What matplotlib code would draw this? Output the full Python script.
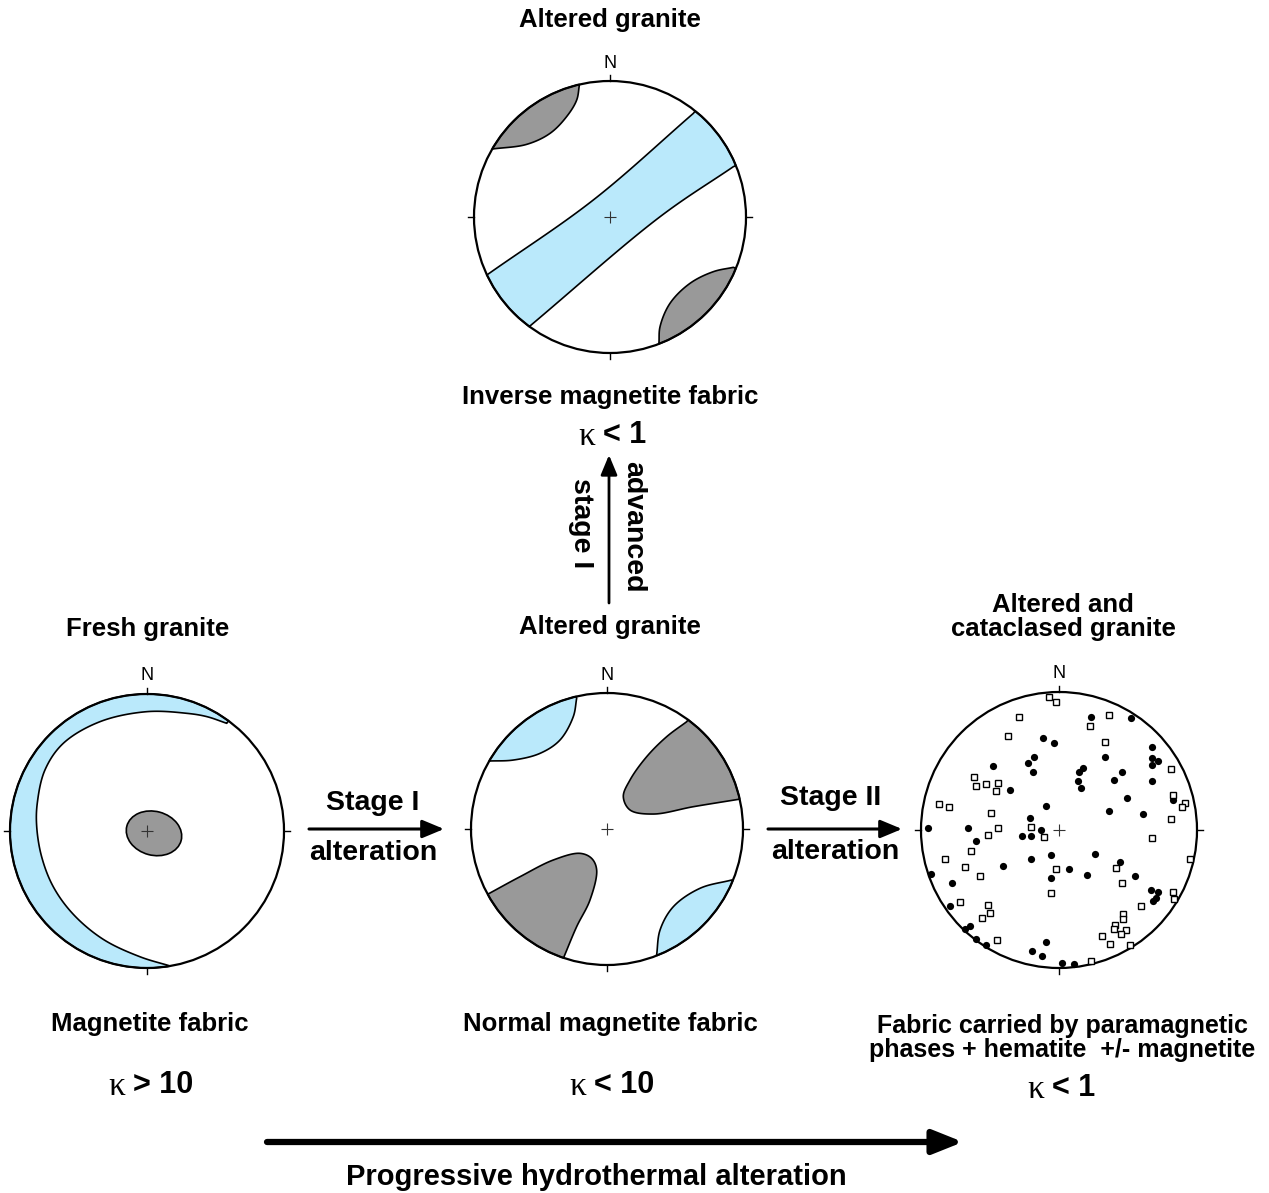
import numpy as np
import matplotlib.pyplot as plt
from matplotlib.patches import Polygon, Circle, Ellipse

BLUE = '#bae9fb'
GREY = '#999999'
SANS = 'Liberation Sans'
SERIF = 'Liberation Serif'

# stereonet centres (px) and radius
NETS = {
    'top': (610, 217, 136),
    'left': (147, 831, 137),
    'mid': (607, 829, 136),
    'right': (1059, 830, 138),
}

# contour outlines in unit-circle coords (x east, y north); each region is a
# list of interior curves joined clockwise along the primitive circle
top_blue = [
    [(-0.895, -0.419), (-0.123, 0.125), (0.613, 0.762)],
    [(0.907, 0.370), (0.368, 0.002), (-0.588, -0.801)],
]
top_grey_nw = [[(-0.225, 0.971), (-0.245, 0.860), (-0.319, 0.738), (-0.441, 0.615),
                (-0.613, 0.534), (-0.865, 0.500)]]
top_grey_se = [[(0.360, -0.924), (0.368, -0.806), (0.441, -0.635), (0.588, -0.488),
                (0.760, -0.402), (0.907, -0.370)]]

left_blue = [[(0.582, 0.786), (0.436, 0.835), (0.290, 0.859), (-0.002, 0.871),
              (-0.343, 0.798), (-0.611, 0.640), (-0.745, 0.445), (-0.801, 0.202),
              (-0.805, 0.031), (-0.769, -0.188), (-0.684, -0.407), (-0.538, -0.608),
              (-0.319, -0.791), (-0.051, -0.918), (0.168, -0.985)]]
left_grey = {'centre': (0.051, -0.017), 'width': 0.41, 'height': 0.32, 'angle': -15}

mid_blue_nw = [[(-0.223, 0.961), (-0.248, 0.826), (-0.346, 0.654), (-0.493, 0.556),
                (-0.689, 0.507), (-0.865, 0.500)]]
mid_blue_se = [[(0.365, -0.926), (0.390, -0.743), (0.488, -0.571), (0.684, -0.436),
                (0.917, -0.375)]]
mid_grey_ne = [[(0.966, 0.218), (0.635, 0.164), (0.340, 0.110), (0.169, 0.140),
                (0.120, 0.238), (0.169, 0.360), (0.292, 0.532), (0.439, 0.679),
                (0.586, 0.789)]]
mid_grey_sw = [[(-0.865, -0.473), (-0.640, -0.351), (-0.395, -0.228), (-0.199, -0.179),
                (-0.113, -0.216), (-0.076, -0.301), (-0.125, -0.522), (-0.223, -0.718),
                (-0.314, -0.934)]]

# individual axes, cataclased granite (unit-circle coords)
dots_x = [-0.116, -0.036, -0.181, -0.225, -0.188, -0.478, -0.355, -0.094, -0.210, -0.949,
          -0.659, -0.130, 0.232, 0.522, 0.333, 0.674, 0.674, 0.717, 0.674, 0.174,
          0.145, 0.457, 0.138, 0.159, 0.399, 0.674, 0.493, 0.826, 0.362, 0.609,
          -0.268, -0.203, -0.601, -0.203, -0.058, -0.406, -0.058, -0.928, -0.775, -0.790,
          -0.645, -0.681, -0.601, -0.529, -0.094, -0.196, -0.123, 0.022, 0.261, 0.072,
          0.203, 0.442, 0.551, 0.667, 0.717, 0.703, 0.681, 0.109]
dots_y = [0.667, 0.630, 0.529, 0.486, 0.420, 0.464, 0.290, 0.174, 0.087, 0.014,
          0.014, 0.000, 0.819, 0.812, 0.529, 0.601, 0.522, 0.500, 0.471, 0.449,
          0.420, 0.420, 0.355, 0.304, 0.362, 0.355, 0.232, 0.217, 0.138, 0.116,
          -0.043, -0.043, -0.080, -0.210, -0.181, -0.261, -0.348, -0.319, -0.384, -0.551,
          -0.696, -0.717, -0.790, -0.833, -0.812, -0.877, -0.913, -0.964, -0.174, -0.283,
          -0.326, -0.232, -0.333, -0.435, -0.449, -0.493, -0.514, -0.971]
squares_x = [-0.072, -0.022, -0.290, -0.370, -0.616, -0.601, -0.529, -0.442, -0.457, -0.870,
             -0.797, -0.493, -0.442, -0.203, 0.362, 0.225, 0.333, 0.812, 0.826, 0.913,
             0.891, 0.812, -0.514, -0.109, -0.638, -0.826, -0.681, -0.572, -0.022, -0.058,
             -0.717, -0.514, -0.500, -0.558, -0.449, 0.674, 0.949, 0.413, 0.457, 0.826,
             0.833, 0.594, 0.464, 0.464, 0.406, 0.399, 0.486, 0.449, 0.312, 0.370,
             0.514, 0.232]
squares_y = [0.964, 0.928, 0.819, 0.681, 0.384, 0.319, 0.333, 0.341, 0.283, 0.188,
             0.167, 0.123, 0.014, 0.022, 0.833, 0.754, 0.638, 0.442, 0.254, 0.196,
             0.167, 0.080, -0.036, -0.051, -0.152, -0.210, -0.268, -0.333, -0.283, -0.457,
             -0.522, -0.543, -0.601, -0.638, -0.797, -0.058, -0.210, -0.275, -0.384, -0.449,
             -0.500, -0.551, -0.609, -0.645, -0.688, -0.717, -0.725, -0.754, -0.768, -0.826,
             -0.833, -0.949]


def catmull_rom(pts, n=30, alpha=0.5):
    # centripetal Catmull-Rom through the given points
    p = np.asarray(pts, float)
    p = np.vstack([2 * p[0] - p[1], p, 2 * p[-1] - p[-2]])
    out = []
    for i in range(1, len(p) - 2):
        p0, p1, p2, p3 = p[i - 1], p[i], p[i + 1], p[i + 2]
        t0 = 0.0
        t1 = t0 + np.linalg.norm(p1 - p0) ** alpha
        t2 = t1 + np.linalg.norm(p2 - p1) ** alpha
        t3 = t2 + np.linalg.norm(p3 - p2) ** alpha
        t = np.linspace(t1, t2, n, endpoint=False)[:, None]
        a1 = (t1 - t) / (t1 - t0) * p0 + (t - t0) / (t1 - t0) * p1
        a2 = (t2 - t) / (t2 - t1) * p1 + (t - t1) / (t2 - t1) * p2
        a3 = (t3 - t) / (t3 - t2) * p2 + (t - t2) / (t3 - t2) * p3
        b1 = (t2 - t) / (t2 - t0) * a1 + (t - t0) / (t2 - t0) * a2
        b2 = (t3 - t) / (t3 - t1) * a2 + (t - t1) / (t3 - t1) * a3
        out.append((t2 - t) / (t2 - t1) * b1 + (t - t1) / (t2 - t1) * b2)
    out.append(p[-2][None, :])
    return np.vstack(out)


def arc_cw(a, b):
    a0 = np.degrees(np.arctan2(a[1], a[0]))
    a1 = np.degrees(np.arctan2(b[1], b[0]))
    while a1 > a0:
        a1 -= 360
    th = np.radians(np.linspace(a0, a1, 80))
    return np.column_stack([np.cos(th), np.sin(th)])


def outline(curves):
    pts = []
    for i, c in enumerate(curves):
        nxt = curves[(i + 1) % len(curves)]
        pts.append(catmull_rom(c))
        pts.append(arc_cw(c[-1], nxt[0]))
    return np.vstack(pts)


def to_px(net, uv):
    cx, cy, r = NETS[net]
    uv = np.asarray(uv, float)
    return np.column_stack([cx + uv[:, 0] * r, cy - uv[:, 1] * r])


def draw_region(ax, net, curves, colour):
    ax.add_patch(Polygon(to_px(net, outline(curves)), closed=True, facecolor=colour,
                         edgecolor='black', lw=1.2, joinstyle='round', zorder=2))


def draw_net(ax, net):
    cx, cy, r = NETS[net]
    ax.add_patch(Circle((cx, cy), r, fill=False, lw=1.6, edgecolor='black', zorder=4))
    for dx, dy in [(0, -1), (1, 0), (0, 1), (-1, 0)]:
        ax.plot([cx + dx * r, cx + dx * (r + 6)], [cy + dy * r, cy + dy * (r + 6)],
                color='black', lw=1.0, zorder=4)
    ax.plot(cx, cy, '+', ms=9, mew=0.8, color='#333333', zorder=5)
    ax.text(cx, cy - r - 18, 'N', fontsize=13, family=SANS, ha='center', va='center')


def label(ax, x, y, s, size=18.5, **kw):
    ax.text(x, y, s, fontsize=size, family=SANS, fontweight='bold', ha='center',
            va='center', **kw)


def kappa(ax, x, y, rest):
    ax.text(x - 4, y + 2, '\u03ba', fontsize=24, family=SERIF, ha='right', va='center')
    ax.text(x + 4, y, rest, fontsize=22, family=SANS, fontweight='bold', ha='left',
            va='center')


def arrow(ax, start, end, lw, scale, style='-|>,head_length=0.6,head_width=0.25'):
    ax.annotate('', xy=end, xytext=start,
                arrowprops=dict(arrowstyle=style, lw=lw, color='black',
                                mutation_scale=scale, shrinkA=0, shrinkB=0))


fig = plt.figure(figsize=(12.69, 11.93), dpi=100)
ax = fig.add_axes([0, 0, 1, 1])
ax.set_xlim(0, 1269)
ax.set_ylim(1193, 0)
ax.axis('off')

# top: inverse fabric
draw_region(ax, 'top', top_blue, BLUE)
draw_region(ax, 'top', top_grey_nw, GREY)
draw_region(ax, 'top', top_grey_se, GREY)
draw_net(ax, 'top')

# left: fresh granite
draw_region(ax, 'left', left_blue, BLUE)
cx, cy, r = NETS['left']
ex, ey = left_grey['centre']
ax.add_patch(Ellipse((cx + ex * r, cy - ey * r), left_grey['width'] * r,
                     left_grey['height'] * r, angle=-left_grey['angle'],
                     facecolor=GREY, edgecolor='black', lw=1.2, zorder=3))
draw_net(ax, 'left')

# middle: normal fabric
draw_region(ax, 'mid', mid_blue_nw, BLUE)
draw_region(ax, 'mid', mid_blue_se, BLUE)
draw_region(ax, 'mid', mid_grey_ne, GREY)
draw_region(ax, 'mid', mid_grey_sw, GREY)
draw_net(ax, 'mid')

# right: scattered axes
d = to_px('right', np.column_stack([dots_x, dots_y]))
s = to_px('right', np.column_stack([squares_x, squares_y]))
ax.plot(d[:, 0], d[:, 1], 'o', ms=5.2, color='black', mew=0, zorder=6)
ax.plot(s[:, 0], s[:, 1], 's', ms=5.0, mfc='white', mec='black', mew=1.0, zorder=6)
draw_net(ax, 'right')

# titles and captions
label(ax, 610, 20, 'Altered granite')
label(ax, 610, 397, 'Inverse magnetite fabric')
kappa(ax, 599, 435, '< 1')

label(ax, 148, 629, 'Fresh granite')
label(ax, 610, 627, 'Altered granite')
label(ax, 1063, 617, 'Altered and\ncataclased granite', linespacing=0.95)

label(ax, 150, 1024, 'Magnetite fabric')
label(ax, 610, 1024, 'Normal magnetite fabric')
label(ax, 1062, 1038, 'Fabric carried by paramagnetic\nphases + hematite  +/- magnetite',
      size=18, linespacing=0.98)
kappa(ax, 129, 1085, '> 10')
kappa(ax, 590, 1085, '< 10')
kappa(ax, 1048, 1088, '< 1')

# stage arrows
arrow(ax, (309, 829), (444, 829), 2.2, 22)
label(ax, 373, 803, 'Stage I', size=20.5)
label(ax, 373, 853, 'alteration', size=20.5)
arrow(ax, (768, 829), (902, 829), 2.2, 22)
label(ax, 831, 798, 'Stage II', size=20.5)
label(ax, 835, 852, 'alteration', size=20.5)

arrow(ax, (609, 603), (609, 455), 2.0, 20)
label(ax, 633, 527, 'advanced', size=20.5, rotation=270)
label(ax, 581, 523, 'stage I', size=20.5, rotation=270)

# overall trend
arrow(ax, (267, 1142), (963, 1142), 4.5, 24,
      style='-|>,head_length=0.75,head_width=0.3')
label(ax, 596, 1177, 'Progressive hydrothermal alteration', size=21)

fig.savefig('out.png', dpi=100)
